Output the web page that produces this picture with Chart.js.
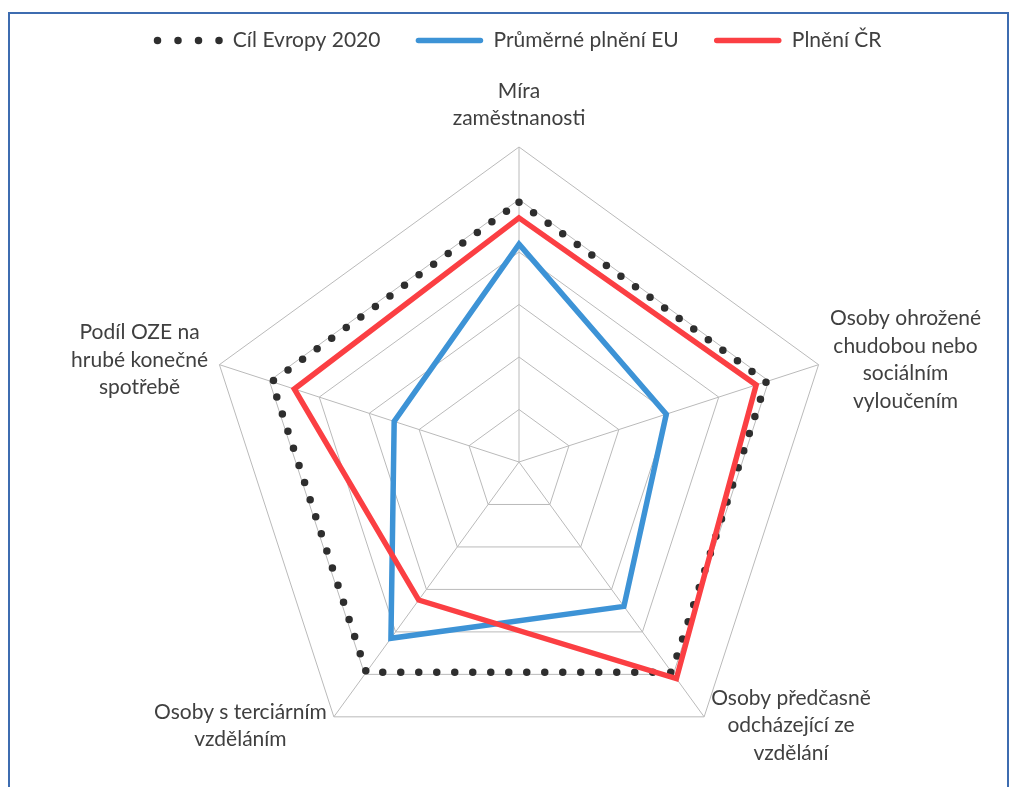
<!DOCTYPE html>
<html lang="cs">
<head>
<meta charset="utf-8">
<title>Strategie Evropa 2020</title>
<script src="https://cdn.jsdelivr.net/npm/chart.js@4/dist/chart.umd.min.js"></script>
<style>
  html, body { margin: 0; padding: 0; background: #fff; }
  #wrap { position: relative; width: 1016px; height: 787px; overflow: hidden; }
  #ramecek { position: absolute; left: 8px; top: 12px; width: 1001px; height: 800px;
             border: 2px solid #3d6cb0; box-sizing: border-box; pointer-events: none; }
</style>
</head>
<body>
<div id="wrap">
  <canvas id="radarChart" width="1016" height="787"></canvas>
  <div id="ramecek"></div>
</div>
<script>
// osy grafu (víceřádkové popisky)
const kategorie = [
  ['Míra', 'zaměstnanosti'],
  ['Osoby ohrožené', 'chudobou nebo', 'sociálním', 'vyloučením'],
  ['Osoby předčasně', 'odcházející ze', 'vzdělání'],
  ['Osoby s terciárním', 'vzděláním'],
  ['Podíl OZE na', 'hrubé konečné', 'spotřebě']
];
const nazvyRad = ['Cíl Evropy 2020', 'Průměrné plnění EU', 'Plnění ČR'];
const cilEvropy = [99, 99, 99, 99, 99];
const plneniEU = [83, 59, 68, 83, 50];
const plneniCR = [93, 95, 102, 65, 90];
const stupnice = [0, 20, 40, 60, 80, 100, 120];

const pismo = 'Lato, "Open Sans", sans-serif';
const velikostPisma = 21;
const barvaTextu = '#404040';

// místo pod legendou, aby síť grafu začínala níž
const mezeraLegendy = {
  id: 'mezeraLegendy',
  beforeInit(chart) {
    const puvodniFit = chart.legend.fit;
    chart.legend.fit = function () {
      puvodniFit.call(this);
      this.height += 86;
    };
  }
};

// popisky os vykreslené jako v Excelu (řádky zarovnané na střed)
const popiskyOs = {
  id: 'popiskyOs',
  afterDraw(chart) {
    const r = chart.scales.r;
    const ctx = chart.ctx;
    const radek = 27.5;
    ctx.save();
    ctx.font = velikostPisma + 'px ' + pismo;
    ctx.fillStyle = barvaTextu;
    ctx.textAlign = 'center';
    ctx.textBaseline = 'middle';
    chart.data.labels.forEach((radky, i) => {
      const p = r.getPointPosition(i, r.drawingArea + 12);
      const sirka = Math.max(...radky.map(t => ctx.measureText(t).width));
      const vyska = radky.length * radek;
      let cx = p.x;
      let top;
      if (Math.abs(p.x - r.xCenter) < 2) {
        top = p.y - vyska - 3;
      } else {
        cx = p.x > r.xCenter ? p.x + sirka / 2 : p.x - sirka / 2;
        top = p.y - vyska / 2 - 1;
      }
      radky.forEach((t, j) => ctx.fillText(t, cx, top + j * radek + radek / 2));
    });
    ctx.restore();
  }
};

// legenda: tečkovaná čára pro cíl, pořadí řad jako v datech
function popiskyLegendy(chart) {
  const zaklad = Chart.defaults.plugins.legend.labels.generateLabels(chart);
  return zaklad.map(item => {
    const ds = chart.data.datasets[item.datasetIndex];
    item.lineCap = 'round';
    if (ds.borderDash) {
      item.lineDash = [0, 20.5];
    }
    item.text = '\u2009' + item.text;
    return item;
  }).sort((a, b) => a.datasetIndex - b.datasetIndex);
}

function initGraf() {
  const ctx = document.getElementById('radarChart').getContext('2d');

  new Chart(ctx, {
    type: 'radar',
    data: {
      labels: kategorie,
      datasets: [
        {
          label: nazvyRad[0],
          data: cilEvropy,
          borderColor: '#2e2e2e',
          borderWidth: 7.5,
          borderDash: [0, 18],
          borderCapStyle: 'round',
          fill: false,
          pointRadius: 0,
          order: 3
        },
        {
          label: nazvyRad[1],
          data: plneniEU,
          borderColor: '#3d93d6',
          borderWidth: 5.5,
          fill: false,
          pointRadius: 0,
          order: 2
        },
        {
          label: nazvyRad[2],
          data: plneniCR,
          borderColor: '#fb3f43',
          borderWidth: 5.5,
          fill: false,
          pointRadius: 0,
          order: 1
        }
      ]
    },
    options: {
      responsive: false,
      animation: false,
      layout: {
        padding: { top: -8, left: 23, right: 0, bottom: 9 }
      },
      scales: {
        r: {
          min: stupnice[0],
          max: stupnice[stupnice.length - 1],
          ticks: { stepSize: stupnice[1] - stupnice[0], display: false },
          grid: { color: '#bababa', lineWidth: 1 },
          angleLines: { color: '#bababa', lineWidth: 1 },
          pointLabels: { display: false }
        }
      },
      plugins: {
        legend: {
          position: 'top',
          labels: {
            usePointStyle: true,
            pointStyle: 'line',
            pointStyleWidth: 62,
            padding: 38,
            color: barvaTextu,
            font: { family: pismo, size: velikostPisma },
            generateLabels: popiskyLegendy
          }
        },
        tooltip: { enabled: false }
      }
    },
    plugins: [mezeraLegendy, popiskyOs]
  });
}

document.addEventListener('DOMContentLoaded', initGraf);
</script>
</body>
</html>
